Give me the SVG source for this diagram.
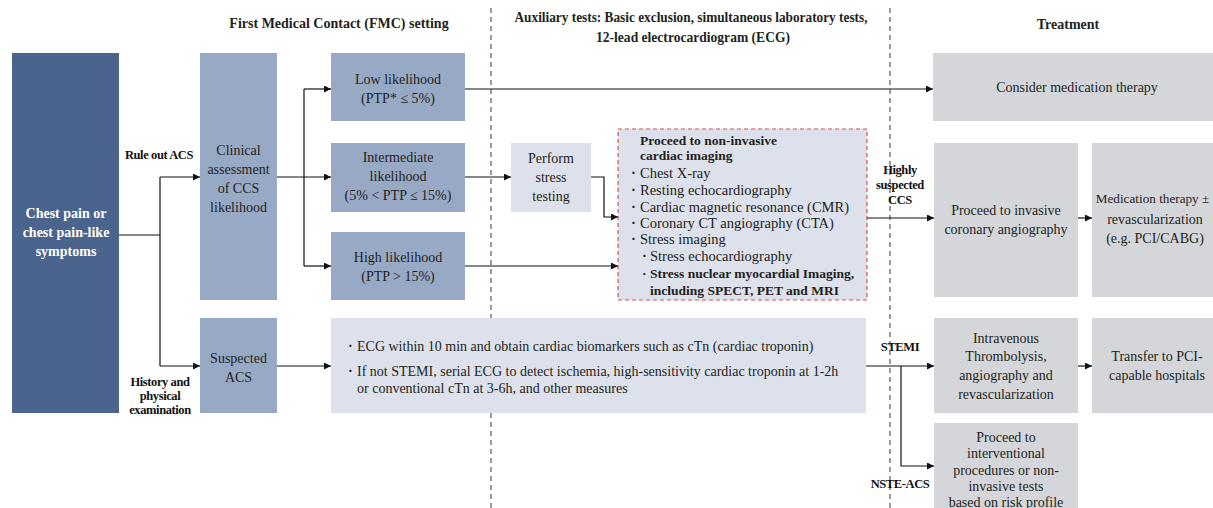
<svg xmlns="http://www.w3.org/2000/svg" width="1213" height="508" viewBox="0 0 1213 508">
<style>
text{font-family:"Liberation Serif","Times New Roman",serif;font-size:14px;fill:#231f20}
.c{text-anchor:middle}
.b{font-weight:bold}
.w{fill:#fff}
.li{font-size:14.5px}
.lb{font-size:13.5px;font-weight:bold}
.lbl{font-weight:bold;font-size:12.5px;letter-spacing:-0.4px;text-anchor:middle;fill:#111}
.dark{fill:#4a648d}
.mid{fill:#98a9c5}
.light{fill:#dde1eb}
.gray{fill:#d4d6da}
.ln{fill:none;stroke:#111;stroke-width:1.2}
.dash{fill:none;stroke:#666;stroke-width:1.3;stroke-dasharray:5,4}
</style>
<defs>
<marker id="ah" viewBox="0 0 8 8" refX="8" refY="4" markerWidth="7" markerHeight="7" markerUnits="userSpaceOnUse" orient="auto">
<path d="M0,0 L8,4 L0,8 z" fill="#111"/>
</marker>
</defs>
<rect width="1213" height="508" fill="#fff"/>
<g id="headers">
<text class="c b" x="339" y="28">First Medical Contact (FMC) setting</text>
<text class="c b" x="691" y="22" textLength="353" lengthAdjust="spacingAndGlyphs">Auxiliary tests: Basic exclusion, simultaneous laboratory tests,</text>
<text class="c b" x="693" y="42" textLength="194" lengthAdjust="spacingAndGlyphs">12-lead electrocardiogram (ECG)</text>
<text class="c b" x="1068" y="29">Treatment</text>
</g>
<g id="dividers">
<line class="dash" x1="491" y1="8" x2="491" y2="508"/>
<line class="dash" x1="890" y1="8" x2="890" y2="508"/>
</g>
<g id="n-chest">
<rect class="dark" x="12" y="53" width="107" height="360"/>
<text class="c b w" x="66" y="218">Chest pain or</text>
<text class="c b w" x="66" y="237">chest pain-like</text>
<text class="c b w" x="66" y="256">symptoms</text>
</g>
<g id="n-clinical">
<rect class="mid" x="200" y="53" width="77" height="247"/>
<text class="c" x="238.5" y="155">Clinical</text>
<text class="c" x="238.5" y="174">assessment</text>
<text class="c" x="238.5" y="193">of CCS</text>
<text class="c" x="238.5" y="212">likelihood</text>
</g>
<g id="n-suspected">
<rect class="mid" x="200" y="318" width="77" height="95"/>
<text class="c" x="238.5" y="362.5">Suspected</text>
<text class="c" x="238.5" y="381.5">ACS</text>
</g>
<g id="n-low">
<rect class="mid" x="331" y="53" width="134" height="68"/>
<text class="c" x="398" y="84">Low likelihood</text>
<text class="c" x="398" y="103">(PTP* ≤ 5%)</text>
</g>
<g id="n-intermediate">
<rect class="mid" x="331" y="143" width="134" height="69"/>
<text class="c" x="398" y="162">Intermediate</text>
<text class="c" x="398" y="181">likelihood</text>
<text class="c" x="398" y="200">(5% &lt; PTP ≤ 15%)</text>
</g>
<g id="n-high">
<rect class="mid" x="331" y="232" width="134" height="68"/>
<text class="c" x="398" y="262">High likelihood</text>
<text class="c" x="398" y="281">(PTP &gt; 15%)</text>
</g>
<g id="n-stress">
<rect class="light" x="511" y="143" width="80" height="69"/>
<text class="c" x="551" y="162.5">Perform</text>
<text class="c" x="551" y="181.5">stress</text>
<text class="c" x="551" y="200.5">testing</text>
</g>
<g id="n-noninvasive">
<rect class="light" x="618" y="129" width="249" height="171" stroke="#d9534f" stroke-width="1.2" stroke-dasharray="4,3"/>
<text class="lb" x="640" y="145">Proceed to non-invasive</text>
<text class="lb" x="640" y="160">cardiac imaging</text>
<text class="li b" x="631" y="177.5">·</text><text class="li" x="640" y="177.5">Chest X-ray</text>
<text class="li b" x="631" y="194.5">·</text><text class="li" x="640" y="194.5">Resting echocardiography</text>
<text class="li b" x="631" y="211.5">·</text><text class="li" x="640" y="211.5">Cardiac magnetic resonance (CMR)</text>
<text class="li b" x="631" y="228">·</text><text class="li" x="640" y="228">Coronary CT angiography (CTA)</text>
<text class="li b" x="631" y="244">·</text><text class="li" x="640" y="244">Stress imaging</text>
<text class="li b" x="642" y="261">·</text><text class="li" x="650" y="261">Stress echocardiography</text>
<text class="lb" x="642" y="278">·</text><text class="lb" x="650" y="278">Stress nuclear myocardial Imaging,</text>
<text class="lb" x="650" y="294.5">including SPECT, PET and MRI</text>
</g>
<g id="n-ecg">
<rect class="light" x="331" y="318" width="535" height="95"/>
<text class="b" x="348" y="350.5">·</text><text x="357" y="350.5">ECG within 10 min and obtain cardiac biomarkers such as cTn (cardiac troponin)</text>
<text class="b" x="348" y="376">·</text><text x="357" y="376">If not STEMI, serial ECG to detect ischemia, high-sensitivity cardiac troponin at 1-2h</text>
<text x="357" y="392.5">or conventional cTn at 3-6h, and other measures</text>
</g>
<g id="n-consider">
<rect class="gray" x="933" y="53" width="280" height="68"/>
<text class="c" x="1077" y="92">Consider medication therapy</text>
</g>
<g id="n-invasive">
<rect class="gray" x="934" y="143" width="144" height="154"/>
<text class="c" x="1006" y="215">Proceed to invasive</text>
<text class="c" x="1006" y="234">coronary angiography</text>
</g>
<g id="n-medication">
<rect class="gray" x="1092" y="143" width="121" height="154"/>
<text class="c" x="1152.5" y="203" style="font-size:13.2px">Medication therapy ±</text>
<text class="c" x="1155" y="224">revascularization</text>
<text class="c" x="1155" y="243">(e.g. PCI/CABG)</text>
</g>
<g id="n-intravenous">
<rect class="gray" x="934" y="318" width="144" height="95"/>
<text class="c" x="1006" y="342.5">Intravenous</text>
<text class="c" x="1006" y="361">Thrombolysis,</text>
<text class="c" x="1006" y="380">angiography and</text>
<text class="c" x="1006" y="399">revascularization</text>
</g>
<g id="n-transfer">
<rect class="gray" x="1092" y="318" width="121" height="95"/>
<text class="c" x="1157" y="361">Transfer to PCI-</text>
<text class="c" x="1157" y="380">capable hospitals</text>
</g>
<g id="n-proceed">
<rect class="gray" x="934" y="423" width="144" height="85"/>
<text class="c" x="1006" y="441.5">Proceed to</text>
<text class="c" x="1006" y="458">interventional</text>
<text class="c" x="1006" y="474.5">procedures or non-</text>
<text class="c" x="1006" y="491">invasive tests</text>
<text class="c" x="1006" y="506.5">based on risk profile</text>
</g>
<g id="connectors">
<path class="ln" d="M119,235 H160"/>
<path class="ln" d="M160,177 V366"/>
<path class="ln" d="M160,177 H200" marker-end="url(#ah)"/>
<path class="ln" d="M160,366 H200" marker-end="url(#ah)"/>
<path class="ln" d="M277,177 H331" marker-end="url(#ah)"/>
<path class="ln" d="M304,89 V266"/>
<path class="ln" d="M304,89 H331" marker-end="url(#ah)"/>
<path class="ln" d="M304,266 H331" marker-end="url(#ah)"/>
<path class="ln" d="M465,89 H933" marker-end="url(#ah)"/>
<path class="ln" d="M465,177 H511" marker-end="url(#ah)"/>
<path class="ln" d="M591,177 H604 V217 H618" marker-end="url(#ah)"/>
<path class="ln" d="M465,266 H618" marker-end="url(#ah)"/>
<path class="ln" d="M867,218 H934" marker-end="url(#ah)"/>
<path class="ln" d="M1078,218 H1092" marker-end="url(#ah)"/>
<path class="ln" d="M277,366 H331" marker-end="url(#ah)"/>
<path class="ln" d="M866,366 H934" marker-end="url(#ah)"/>
<path class="ln" d="M901,366 V466 H934" marker-end="url(#ah)"/>
<path class="ln" d="M1078,366 H1092" marker-end="url(#ah)"/>
</g>
<g id="labels">
<text class="lbl" x="159" y="159">Rule out ACS</text>
<text class="lbl" x="160" y="386">History and</text>
<text class="lbl" x="160" y="400">physical</text>
<text class="lbl" x="160" y="414">examination</text>
<text class="lbl" x="900" y="174">Highly</text>
<text class="lbl" x="900" y="189">suspected</text>
<text class="lbl" x="900" y="204">CCS</text>
<text class="lbl" x="900" y="351">STEMI</text>
<text class="lbl" x="900" y="488">NSTE-ACS</text>
</g>
</svg>
